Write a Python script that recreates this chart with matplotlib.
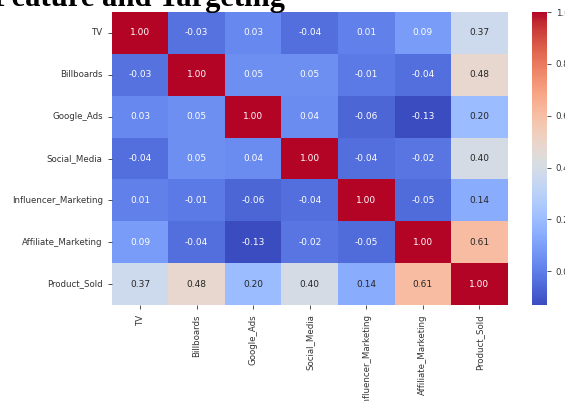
import numpy as np
import matplotlib
matplotlib.use("Agg")
import matplotlib.pyplot as plt
import seaborn as sns

# correlation matrix of the marketing channels and sales
features = ['TV', 'Billboards', 'Google_Ads', 'Social_Media',
            'Influencer_Marketing', 'Affiliate_Marketing', 'Product_Sold']

tv          = [1.00, -0.03, 0.03, -0.04, 0.01, 0.09, 0.37]
billboards  = [-0.03, 1.00, 0.05, 0.05, -0.01, -0.04, 0.48]
google_ads  = [0.03, 0.05, 1.00, 0.04, -0.06, -0.13, 0.20]
social      = [-0.04, 0.05, 0.04, 1.00, -0.04, -0.02, 0.40]
influencer  = [0.01, -0.01, -0.06, -0.04, 1.00, -0.05, 0.14]
affiliate   = [0.09, -0.04, -0.13, -0.02, -0.05, 1.00, 0.61]
product     = [0.37, 0.48, 0.20, 0.40, 0.14, 0.61, 1.00]

corr = np.array([tv, billboards, google_ads, social, influencer, affiliate, product])

W, H = 565, 401
fig = plt.figure(figsize=(W / 100, H / 100), dpi=100)
ax = fig.add_axes([111.7 / W, 1 - 305 / H, 396 / W, 293 / H])
cax = fig.add_axes([531.7 / W, 1 - 305 / H, 15 / W, 293 / H])

sns.heatmap(corr, annot=True, fmt='.2f', cmap='coolwarm',
            xticklabels=features, yticklabels=features,
            annot_kws={'fontsize': 6.5}, ax=ax, cbar_ax=cax)

ax.tick_params(axis='both', labelsize=6.2, length=3, width=0.6, colors='#333333')
ax.set_xticklabels(features, rotation=90)
ax.set_yticklabels(features, rotation=0)
cax.tick_params(labelsize=6.2, length=3, width=0.6, colors='#333333')
cax.set_yticks([0.0, 0.2, 0.4, 0.6, 0.8, 1.0])
cax.set_yticklabels(['0.0', '0.2', '0.4', '0.6', '0.8', '1.0'])

fig.text(285 / W, 1 - 6 / H, 'Feature and Targeting', ha='right', va='baseline',
         fontsize=22, fontweight='bold', family='Liberation Serif')

fig.savefig('out.png', dpi=100)
